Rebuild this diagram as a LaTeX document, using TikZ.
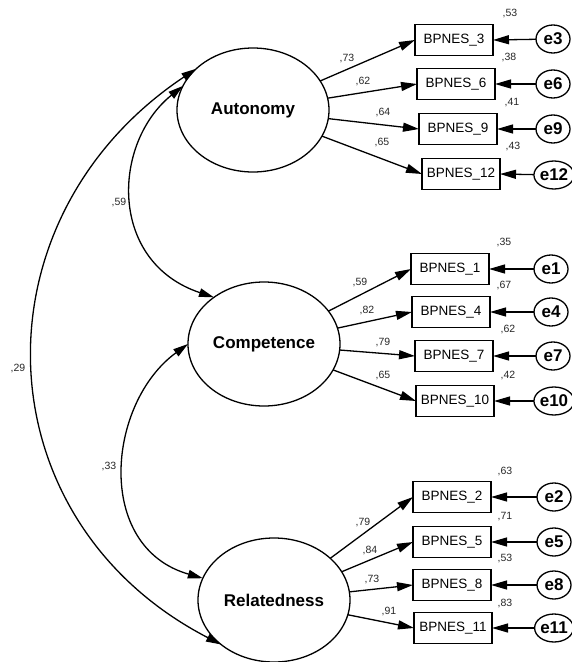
\documentclass[tikz,border=0pt]{standalone}
\usepackage{fontspec}
\setmainfont{Liberation Sans}
\usetikzlibrary{arrows.meta,shapes.geometric}
\begin{document}
\begin{tikzpicture}[x=1pt,y=-1pt,
  lat/.style={draw, ellipse, line width=1.3pt, minimum width=152pt, minimum height=124pt, inner sep=0pt, outer sep=0pt, font=\fontsize{17}{20}\selectfont\bfseries},
  obs/.style={draw, rectangle, line width=1.3pt, minimum width=78pt, minimum height=31pt, inner sep=0pt, outer sep=0pt, font=\fontsize{13.5}{16}\selectfont},
  err/.style={draw, ellipse, line width=1.3pt, minimum width=34pt, minimum height=28pt, inner sep=0pt, outer sep=0pt, font=\fontsize{17}{18}\selectfont\bfseries},
  coef/.style={font=\fontsize{10.5}{12}\selectfont, inner sep=0pt, text=black!85},
  arr/.style={line width=1.3pt, -{Triangle[length=16pt,width=9pt]}},
  cov/.style={line width=1.3pt, {Triangle[length=15pt,width=8.5pt]}-{Triangle[length=15pt,width=8.5pt]}}
]
\useasboundingbox (0,0) rectangle (572,662);

% latent variables
\node[lat] (A) at (253,110) {Autonomy};
\node[lat] (C) at (264,344) {Competence};
\node[lat] (R) at (274,600) {Relatedness};

% Autonomy indicators
\node[obs] (b3)  at (454,40)  {BPNES\_3};
\node[obs] (b6)  at (456,84)  {BPNES\_6};
\node[obs] (b9)  at (458,129) {BPNES\_9};
\node[obs] (b12) at (461,174) {BPNES\_12};
% Competence indicators
\node[obs] (b1)  at (450,269) {BPNES\_1};
\node[obs] (b4)  at (451,312) {BPNES\_4};
\node[obs] (b7)  at (454,356) {BPNES\_7};
\node[obs] (b10) at (455,401) {BPNES\_10};
% Relatedness indicators
\node[obs] (b2)  at (452,497) {BPNES\_2};
\node[obs] (b5)  at (452,542) {BPNES\_5};
\node[obs] (b8)  at (452,585) {BPNES\_8};
\node[obs] (b11) at (453,628) {BPNES\_11};

% errors
\node[err] (e3)  at (553,39)  {e3};
\node[err] (e6)  at (553,84)  {e6};
\node[err] (e9)  at (553,129) {e9};
\node[err] (e12) at (554,175) {e12};
\node[err] (e1)  at (551,269) {e1};
\node[err] (e4)  at (551,312) {e4};
\node[err] (e7)  at (553,356) {e7};
\node[err] (e10) at (554,401) {e10};
\node[err] (e2)  at (554,497) {e2};
\node[err] (e5)  at (554,542) {e5};
\node[err] (e8)  at (554,585) {e8};
\node[err] (e11) at (554,628) {e11};

% loadings
\foreach \l/\b in {A/b3,A/b6,A/b9,A/b12,C/b1,C/b4,C/b7,C/b10,R/b2,R/b5,R/b8,R/b11}
  \draw[arr] (\l) -- (\b.west);
% error paths
\foreach \e/\b in {e3/b3,e6/b6,e9/b9,e12/b12,e1/b1,e4/b4,e7/b7,e10/b10,e2/b2,e5/b5,e8/b8,e11/b11}
  \draw[arr] (\e) -- (\b.east);

% covariances
\draw[cov] (A.161) .. controls (112,143) and (108,262) .. (C.137);
\draw[cov] (C.180) .. controls (107,403) and (94,547) .. (R.163);
\draw[cov] (A.144) .. controls (-29,219) and (-20,520) .. (R.220);

% coefficient labels
\node[coef] (l73a) at (347,59)  {,73};
\node[coef] (l62a) at (363,82)  {,62};
\node[coef] (l64a) at (383,113) {,64};
\node[coef] (l65a) at (382,143) {,65};
\node[coef] (r53a) at (510,14)  {,53};
\node[coef] (r38a) at (509,58)  {,38};
\node[coef] (r41a) at (512,103) {,41};
\node[coef] (r43a) at (513,147) {,43};

\node[coef] (l59c) at (360,283) {,59};
\node[coef] (l82c) at (367,311) {,82};
\node[coef] (l79c) at (383,343) {,79};
\node[coef] (l65c) at (383,375) {,65};
\node[coef] (r35c) at (504,243) {,35};
\node[coef] (r67c) at (504,286) {,67};
\node[coef] (r62c) at (508,330) {,62};
\node[coef] (r42c) at (508,375) {,42};

\node[coef] (l79r) at (363,522) {,79};
\node[coef] (l84r) at (370,550) {,84};
\node[coef] (l73r) at (372,579) {,73};
\node[coef] (l91r) at (389,611) {,91};
\node[coef] (r63r) at (505,471) {,63};
\node[coef] (r71r) at (505,517) {,71};
\node[coef] (r53r) at (505,558) {,53};
\node[coef] (r83r) at (505,603) {,83};

\node[coef] (c59) at (119,203) {,59};
\node[coef] (c33) at (109,466) {,33};
\node[coef] (c29) at (18,369)  {,29};
\end{tikzpicture}
\end{document}
